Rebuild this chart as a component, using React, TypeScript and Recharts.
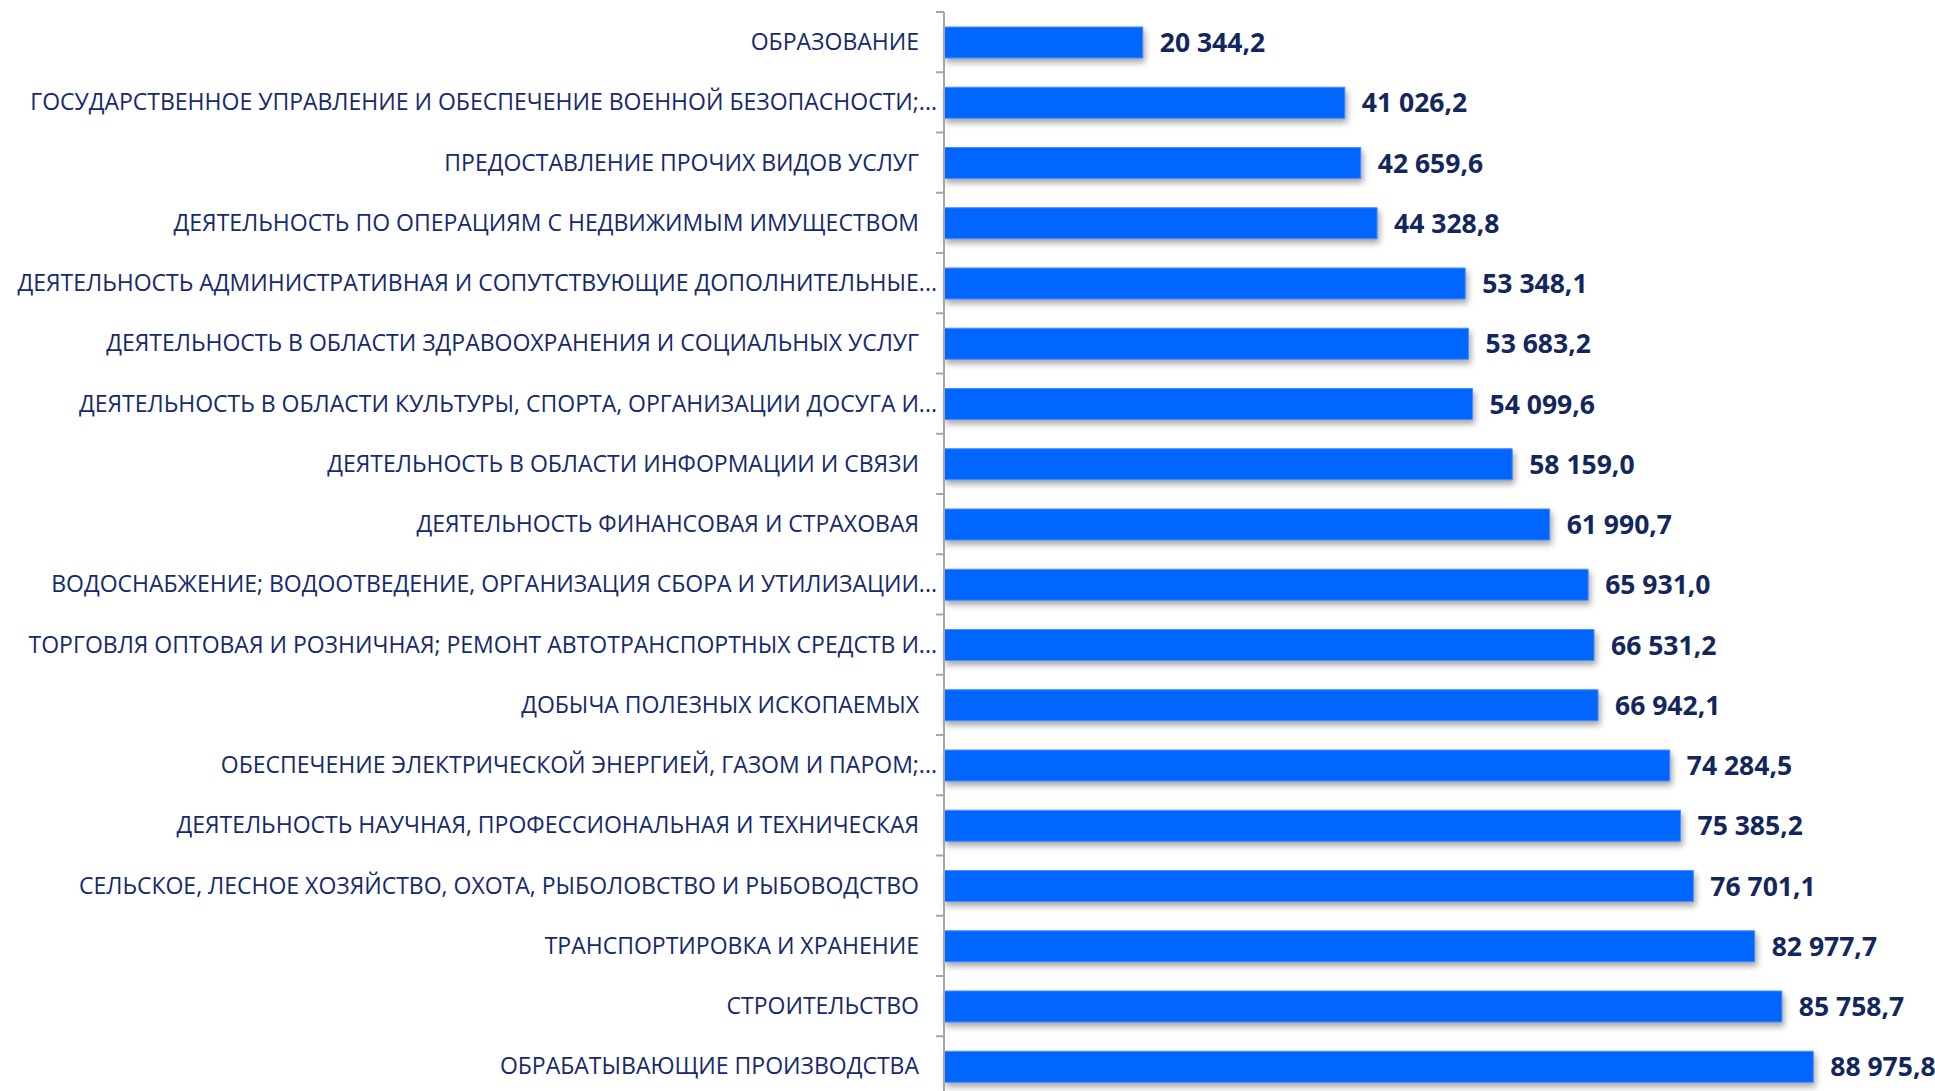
import { BarChart, Bar, XAxis, YAxis, LabelList } from 'recharts'

const CATEGORIES = [
  'ОБРАЗОВАНИЕ',
  'ГОСУДАРСТВЕННОЕ УПРАВЛЕНИЕ И ОБЕСПЕЧЕНИЕ ВОЕННОЙ БЕЗОПАСНОСТИ;...',
  'ПРЕДОСТАВЛЕНИЕ ПРОЧИХ ВИДОВ УСЛУГ',
  'ДЕЯТЕЛЬНОСТЬ ПО ОПЕРАЦИЯМ С НЕДВИЖИМЫМ ИМУЩЕСТВОМ',
  'ДЕЯТЕЛЬНОСТЬ АДМИНИСТРАТИВНАЯ И СОПУТСТВУЮЩИЕ ДОПОЛНИТЕЛЬНЫЕ...',
  'ДЕЯТЕЛЬНОСТЬ В ОБЛАСТИ ЗДРАВООХРАНЕНИЯ И СОЦИАЛЬНЫХ УСЛУГ',
  'ДЕЯТЕЛЬНОСТЬ В ОБЛАСТИ КУЛЬТУРЫ, СПОРТА, ОРГАНИЗАЦИИ ДОСУГА И...',
  'ДЕЯТЕЛЬНОСТЬ В ОБЛАСТИ ИНФОРМАЦИИ И СВЯЗИ',
  'ДЕЯТЕЛЬНОСТЬ ФИНАНСОВАЯ И СТРАХОВАЯ',
  'ВОДОСНАБЖЕНИЕ; ВОДООТВЕДЕНИЕ, ОРГАНИЗАЦИЯ СБОРА И УТИЛИЗАЦИИ...',
  'ТОРГОВЛЯ ОПТОВАЯ И РОЗНИЧНАЯ; РЕМОНТ АВТОТРАНСПОРТНЫХ СРЕДСТВ И...',
  'ДОБЫЧА ПОЛЕЗНЫХ ИСКОПАЕМЫХ',
  'ОБЕСПЕЧЕНИЕ ЭЛЕКТРИЧЕСКОЙ ЭНЕРГИЕЙ, ГАЗОМ И ПАРОМ;...',
  'ДЕЯТЕЛЬНОСТЬ НАУЧНАЯ, ПРОФЕССИОНАЛЬНАЯ И ТЕХНИЧЕСКАЯ',
  'СЕЛЬСКОЕ, ЛЕСНОЕ ХОЗЯЙСТВО, ОХОТА, РЫБОЛОВСТВО И РЫБОВОДСТВО',
  'ТРАНСПОРТИРОВКА И ХРАНЕНИЕ',
  'СТРОИТЕЛЬСТВО',
  'ОБРАБАТЫВАЮЩИЕ ПРОИЗВОДСТВА',
]

const VALUES = [
  20344.2, 41026.2, 42659.6, 44328.8, 53348.1, 53683.2, 54099.6, 58159.0, 61990.7,
  65931.0, 66531.2, 66942.1, 74284.5, 75385.2, 76701.1, 82977.7, 85758.7, 88975.8,
]

const X_DOMAIN = [0, 100000]

const W = 1935
const MARGIN_TOP = 12
const BAND = 60.25
const H = MARGIN_TOP + BAND * CATEGORIES.length
const AXIS_W = 944

const LABEL_COLOR = '#15296b'
const VALUE_COLOR = '#13275c'

const data = CATEGORIES.map((name, i) => ({ name, value: VALUES[i] }))

function fmt(v: number) {
  const [int, dec] = v.toFixed(1).split('.')
  return int.replace(/\B(?=(\d{3})+(?!\d))/g, '\u00a0') + ',' + dec
}

// truncated labels (Excel-style "...") sit a bit closer to the axis
function CategoryTick({ x, y, payload }: any) {
  const shift = String(payload.value).endsWith('...') ? 18 : 0
  return (
    <g>
      <line x1={AXIS_W - 8} x2={AXIS_W} y1={y - BAND / 2} y2={y - BAND / 2} stroke="#a6a6a6" strokeWidth={2} />
      <text x={x + shift} y={y + 8} textAnchor="end" fill={LABEL_COLOR}
        style={{ fontFamily: '"Open Sans", sans-serif', fontSize: 23 }}>
        {payload.value}
      </text>
    </g>
  )
}

function ValueLabel({ x, y, width, height, value }: any) {
  return (
    <text x={x + width + 17} y={y + height / 2 + 9.5} fill={VALUE_COLOR}
      style={{ fontFamily: '"Open Sans", sans-serif', fontSize: 26.5, fontWeight: 700 }}>
      {fmt(value)}
    </text>
  )
}

export default function App() {
  return (
    <div style={{ position: 'absolute', left: 0, top: 0, width: W, height: 1091, overflow: 'hidden', background: '#fff' }}>
      <BarChart width={W} height={H} data={data} layout="vertical"
        margin={{ top: MARGIN_TOP, right: 14, left: 0, bottom: 0 }}>
        <XAxis type="number" domain={X_DOMAIN} hide />
        <YAxis type="category" dataKey="name" width={AXIS_W} interval={0}
          tick={<CategoryTick />} tickLine={false} tickMargin={19}
          axisLine={{ stroke: '#a6a6a6', strokeWidth: 2 }} />
        <Bar dataKey="value" fill="#0066ff" stroke="#4a8dff" strokeWidth={1} barSize={31}
          isAnimationActive={false}
          style={{ filter: 'drop-shadow(2px 4px 3px rgba(0,0,0,0.35))' }}>
          <LabelList dataKey="value" content={<ValueLabel />} />
        </Bar>
      </BarChart>
    </div>
  )
}
